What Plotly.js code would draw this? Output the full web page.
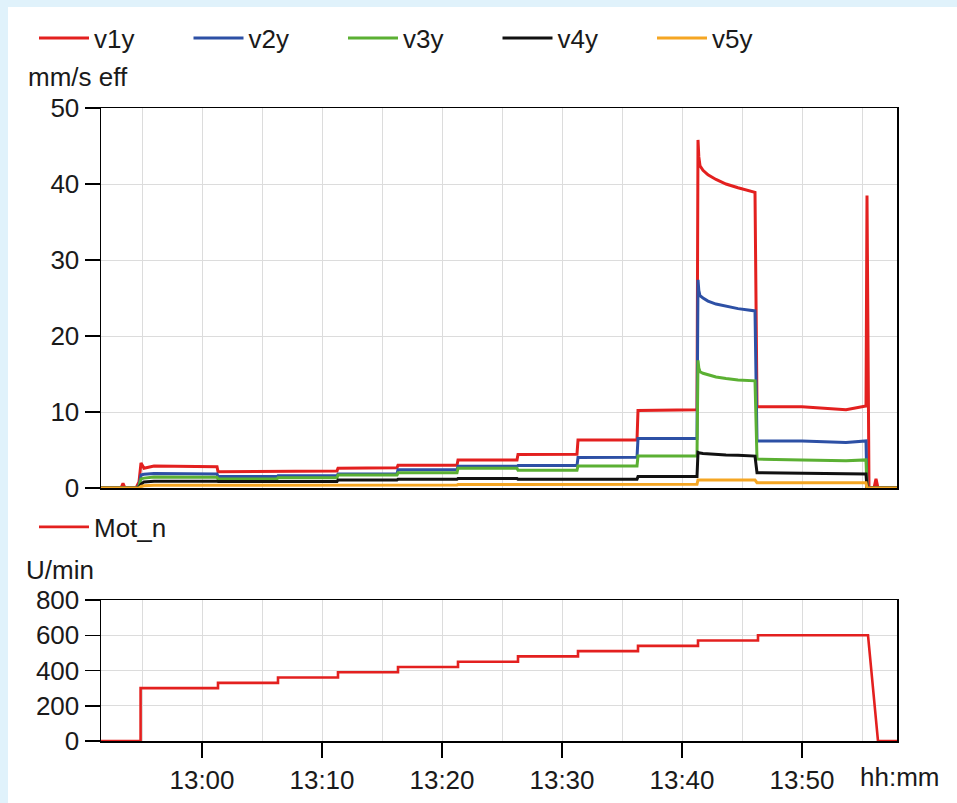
<!DOCTYPE html>
<html>
<head>
<meta charset="utf-8">
<script src="https://cdn.plot.ly/plotly-3.0.1.min.js"></script>
<style>html,body{margin:0;padding:0;background:#fff;}#chart{width:957px;height:803px;}</style>
</head>
<body>
<div id="chart"></div>
<script>
// ---- data ----
const DAY = "2021-01-01 ";
const vibTime = ["12:51:35","12:53:15","12:53:25","12:53:35","12:54:30","12:54:45","12:54:55","12:55:10","12:56:00","13:01:15",
  "13:01:20","13:06:15","13:06:20","13:11:15","13:11:20","13:16:15","13:16:20","13:21:15","13:21:20","13:26:15",
  "13:26:20","13:31:15","13:31:20","13:36:15","13:36:20","13:41:15",
  "13:41:20","13:41:24","13:41:30","13:41:45","13:42:10","13:42:50","13:43:40","13:44:40","13:46:05",
  "13:46:15","13:50:00","13:53:40","13:55:20","13:55:25","13:55:35","13:56:00","13:56:10","13:56:20","13:57:55"];
const v1y = [0,0,0.6,0,0,0.8,3.3,2.6,2.9,2.8, 2.15,2.2,2.2,2.25,2.6,2.65,3.0,3.0,3.7,3.7, 4.4,4.45,6.3,6.3,10.2,10.3,
  45.8,43.6,42.4,41.8,41.2,40.6,40.0,39.5,38.9, 10.7,10.7,10.3,10.8,38.5,0,0,1.2,0,0];
const v2y = [0,0,0,0,0,0.3,1.7,1.8,1.9,1.85, 1.5,1.5,1.6,1.6,1.85,1.85,2.4,2.4,2.85,2.85, 2.95,2.95,4.0,4.05,6.5,6.5,
  27.4,26.0,25.3,25.0,24.6,24.2,23.9,23.6,23.3, 6.2,6.2,6.0,6.2,0,0,0,0,0,0];
const v3y = [0,0,0,0,0,0.2,1.2,1.3,1.45,1.4, 1.2,1.2,1.35,1.35,1.7,1.7,2.0,2.0,2.6,2.6, 2.35,2.35,2.9,2.9,4.2,4.2,
  16.8,15.8,15.3,15.1,14.9,14.6,14.4,14.2,14.1, 3.8,3.7,3.6,3.7,0,0,0,0,0,0];
const v4y = [0,0,0,0,0,0.1,0.5,0.8,0.9,0.9, 0.85,0.85,0.85,0.85,1.05,1.05,1.15,1.15,1.25,1.25, 1.15,1.15,1.15,1.15,1.5,1.5,
  4.7,4.65,4.6,4.55,4.5,4.4,4.35,4.3,4.2, 2.0,1.9,1.85,1.85,0,0,0,0,0,0];
const v5y = [0,0,0,0,0,0,0.2,0.3,0.35,0.35, 0.35,0.35,0.35,0.35,0.4,0.4,0.4,0.4,0.45,0.45, 0.45,0.45,0.45,0.45,0.5,0.5,
  1.05,1.05,1.05,1.05,1.05,1.05,1.05,1.05,1.05, 0.7,0.7,0.7,0.7,0,0,0,0,0,0];

const motTime = ["12:51:35","12:54:53","12:54:53","13:01:20","13:01:20","13:06:20","13:06:20","13:11:20","13:11:20","13:16:20",
  "13:16:20","13:21:20","13:21:20","13:26:20","13:26:20","13:31:20","13:31:20","13:36:20","13:36:20","13:41:20",
  "13:41:20","13:46:20","13:46:20","13:55:30","13:56:20","13:57:55"];
const motN = [0,0,300,300,330,330,360,360,390,390,420,420,450,450,480,480,510,510,540,540,570,570,600,600,0,0];

const seriesNames = ["v1y","v2y","v3y","v4y","v5y"];
const seriesColors = ["#e3201f","#2d50a5","#5bb033","#111111","#f5a623"];
const tickLabelsX = ["13:00","13:10","13:20","13:30","13:40","13:50"];
const yTop = [0,10,20,30,40,50];
const yBottom = [0,200,400,600,800];

// ---- build ----
const tx = vibTime.map(t => DAY + t);
const mx = motTime.map(t => DAY + t);
const vib = [v1y,v2y,v3y,v4y,v5y];
const traces = vib.map((arr,i) => ({
  x: tx, y: arr, type: "scatter", mode: "lines", name: seriesNames[i],
  line: {color: seriesColors[i], width: 3}, xaxis: "x", yaxis: "y", legend: "legend"
}));
traces.push({x: mx, y: motN, type: "scatter", mode: "lines", name: "Mot_n",
  line: {color: "#e3201f", width: 2.6}, xaxis: "x2", yaxis: "y2", legend: "legend2"});

const W = 957, H = 803;
const px = v => v / W, py = v => 1 - v / H;
const FONT = {family: "Liberation Sans, Arial, sans-serif", size: 26, color: "#1a1a1a"};
const xr = [DAY + "12:51:35", DAY + "13:57:55"];
const tickVals = tickLabelsX.map(t => DAY + t + ":00");
const gridC = "#dcdcdc";

const common = {
  type: "date", range: xr, domain: [px(101), px(897)],
  showline: true, linecolor: "#000", linewidth: 1.5, mirror: true,
  showgrid: true, gridcolor: gridC, gridwidth: 1,
  tickmode: "array", tickvals: tickVals, ticktext: tickLabelsX,
  minor: {tickmode: "linear", tick0: DAY + "12:55:00", dtick: 300000, showgrid: true, gridcolor: gridC, gridwidth: 1, ticks: ""},
  zeroline: false, tickfont: FONT
};

const layout = {
  width: W, height: H,
  margin: {l: 0, r: 0, t: 0, b: 0},
  paper_bgcolor: "#ffffff", plot_bgcolor: "#ffffff",
  font: FONT,
  showlegend: true,
  xaxis: Object.assign({}, common, {anchor: "y", showticklabels: false, ticks: ""}),
  xaxis2: Object.assign({}, common, {anchor: "y2", matches: "x", showticklabels: true, ticks: "outside", ticklen: 15, tickcolor: "#000", tickwidth: 1.5}),
  yaxis: {domain: [py(488), py(108)], range: [0, 50], tickmode: "array", tickvals: yTop,
    ticks: "outside", ticklen: 15, tickcolor: "#000", tickwidth: 1.5,
    showline: true, linecolor: "#000", linewidth: 1.5, mirror: true,
    showgrid: true, gridcolor: gridC, zeroline: false, tickfont: FONT, anchor: "x"},
  yaxis2: {domain: [py(741), py(600)], range: [0, 800], tickmode: "array", tickvals: yBottom,
    ticks: "outside", ticklen: 15, tickcolor: "#000", tickwidth: 1.5,
    showline: true, linecolor: "#000", linewidth: 1.5, mirror: true,
    showgrid: true, gridcolor: gridC, zeroline: false, tickfont: FONT, anchor: "x2"},
  legend: {orientation: "h", x: px(34), y: py(38), xanchor: "left", yanchor: "middle",
    font: FONT, bgcolor: "rgba(0,0,0,0)", entrywidth: 89.5, entrywidthmode: "pixels", itemwidth: 50, tracegroupgap: 0},
  legend2: {orientation: "h", x: px(34), y: py(527), xanchor: "left", yanchor: "middle",
    font: FONT, bgcolor: "rgba(0,0,0,0)", itemwidth: 50},
  annotations: [
    {text: "mm/s eff", xref: "paper", yref: "paper", x: px(26), y: py(77), xanchor: "left", yanchor: "middle", showarrow: false, font: FONT},
    {text: "U/min", xref: "paper", yref: "paper", x: px(24), y: py(570), xanchor: "left", yanchor: "middle", showarrow: false, font: FONT},
    {text: "hh:mm", xref: "paper", yref: "paper", x: px(858), y: py(777), xanchor: "left", yanchor: "middle", showarrow: false, font: FONT}
  ],
  shapes: [
    {type: "rect", xref: "paper", yref: "paper", x0: 0, x1: 1, y0: py(7), y1: 1, fillcolor: "#e0f2fb", line: {width: 0}, layer: "below"},
    {type: "rect", xref: "paper", yref: "paper", x0: 0, x1: px(8), y0: 0, y1: 1, fillcolor: "#e0f2fb", line: {width: 0}, layer: "below"}
  ]
};

Plotly.newPlot("chart", traces, layout, {displayModeBar: false, staticPlot: true});
</script>
</body>
</html>
